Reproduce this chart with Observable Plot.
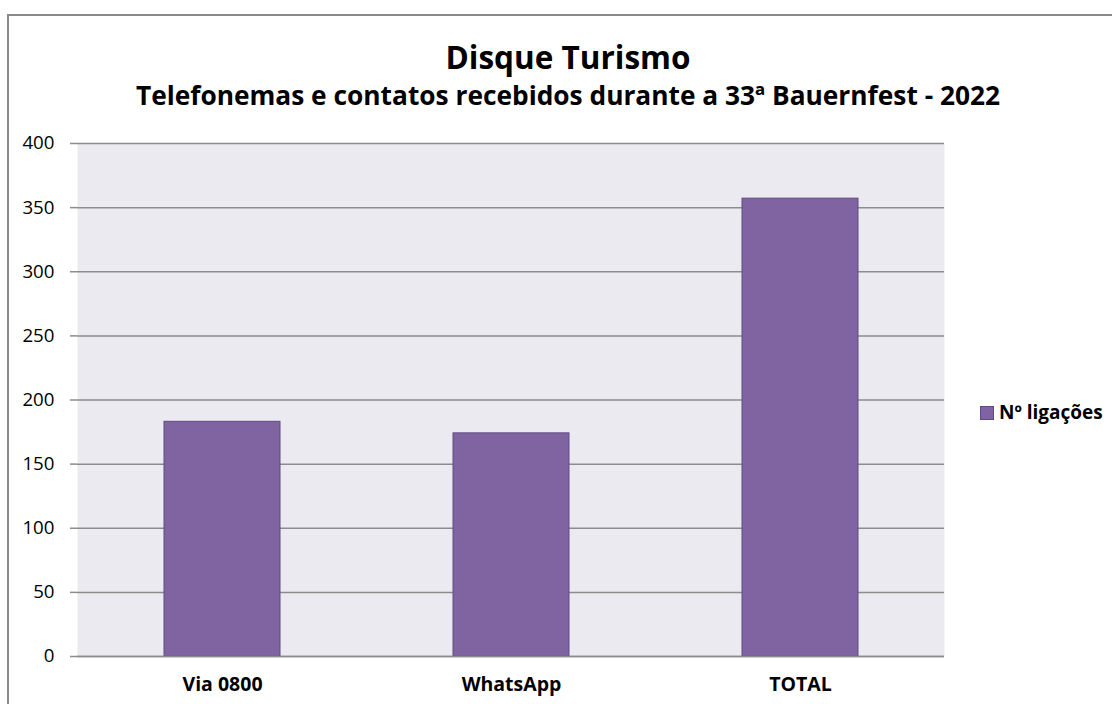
<!DOCTYPE html>
<html>
<head>
<meta charset="utf-8">
<script src="https://cdn.jsdelivr.net/npm/d3@7"></script>
<script src="https://cdn.jsdelivr.net/npm/@observablehq/plot@0.6"></script>
<style>
  html, body { margin: 0; padding: 0; background: #fff; overflow: hidden; width: 1112px; height: 704px; }
  body { font-family: "Open Sans", Lato, sans-serif; position: relative; }
  #frame { position: absolute; left: 7px; top: 14px; width: 1200px; height: 800px; border: 2px solid #8a8a8a; box-sizing: border-box; }
  #title { position: absolute; left: 0; width: 1136px; top: 41px; line-height: 1; text-align: center; font-weight: bold; font-size: 31.5px; color: #000; white-space: nowrap; }
  #subtitle { position: absolute; left: 0; width: 1136px; top: 82px; line-height: 1; text-align: center; font-weight: bold; font-size: 26.3px; color: #000; white-space: nowrap; }
  #chart { position: absolute; left: 0; top: 120px; }
  #legend { position: absolute; left: 980px; top: 403px; line-height: 1; font-weight: bold; font-size: 19px; display: flex; align-items: center; gap: 5px; white-space: nowrap; }
  #legend .sw { width: 12px; height: 12px; background: #8064A2; border: 1px solid #5E4A86; }
</style>
</head>
<body>
<div id="frame"></div>
<div id="title">Disque Turismo</div>
<div id="subtitle">Telefonemas e contatos recebidos durante a 33ª Bauernfest - 2022</div>
<div id="chart"></div>
<div id="legend"><div class="sw"></div><span>Nº ligações</span></div>
<script>
const categories = ["Via 0800", "WhatsApp", "TOTAL"];
const values = [183, 174, 357];
const yTicks = [0, 50, 100, 150, 200, 250, 300, 350, 400];
const seriesName = "Nº ligações";

const data = categories.map((c, i) => ({category: c, value: values[i]}));

const chart = Plot.plot({
  width: 1112,
  height: 584,
  marginLeft: 77,
  marginRight: 168,
  marginTop: 23,
  marginBottom: 48,
  style: { fontFamily: "'Open Sans', Lato, sans-serif", fontSize: "18.7px", color: "#000", background: "transparent" },
  x: { domain: categories, paddingInner: 0.6, paddingOuter: 0.3, label: null },
  y: { domain: [0, 400], label: null },
  marks: [
    Plot.frame({ fill: "#ECEAF1", stroke: null }),
    Plot.gridY(yTicks, { stroke: "#8c8c8c", strokeOpacity: 1, strokeWidth: 1.5 }),
    Plot.barY(data, { x: "category", y: "value", fill: "#8064A2", stroke: "#5E4A86", strokeWidth: 1, title: d => `${seriesName}: ${d.value}` }),
    Plot.ruleX([0], { frameAnchor: "left", stroke: "#8c8c8c", strokeWidth: 1.5 }),
    Plot.ruleY([0], { stroke: "#8c8c8c", strokeWidth: 1.5 }),
    Plot.axisY(yTicks, { tickSize: 7, tickPadding: 16, stroke: "#8c8c8c", strokeWidth: 1.5, fontSize: 18.7, fill: "#000", label: null }),
    Plot.axisX({ tickSize: 0, tickPadding: 21, fontSize: 19.5, fontWeight: "bold", fill: "#000", label: null })
  ]
});
document.getElementById("chart").appendChild(chart);
</script>
</body>
</html>
